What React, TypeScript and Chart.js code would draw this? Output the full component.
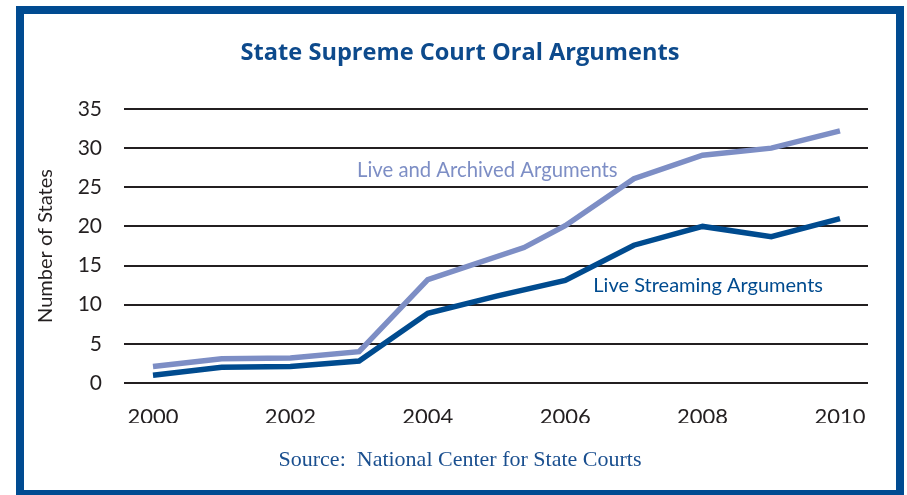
import React, { useEffect, useRef } from "react";
import { Chart, registerables } from "chart.js";

Chart.register(...registerables);

// ---- data ----
const archivedYears = [2000, 2001, 2002, 2003, 2004, 2005.4, 2006, 2007, 2008, 2009, 2010];
const archivedValues = [2.1, 3.1, 3.2, 4.0, 13.2, 17.3, 20.1, 26.1, 29.1, 30.0, 32.2];
const streamingYears = [2000, 2001, 2002, 2003, 2004, 2005, 2006, 2007, 2008, 2009, 2010];
const streamingValues = [1.0, 2.0, 2.1, 2.8, 8.9, 11.1, 13.1, 17.6, 20.0, 18.7, 21.0];
const xTickLabels = [2000, 2002, 2004, 2006, 2008, 2010];
const yTickValues = [0, 5, 10, 15, 20, 25, 30, 35];

const TITLE = "State Supreme Court Oral Arguments";
const SOURCE = "Source:  National Center for State Courts";
const Y_TITLE = "Number of States";
const ARCHIVED_LABEL = "Live and Archived Arguments";
const STREAMING_LABEL = "Live Streaming Arguments";

const DARK = "#004b8f";
const LIGHT = "#7d8ec5";
const FRAME = "#004b91";
const INK = "#231f20";

const textPlugin = {
  id: "customTexts",
  afterDatasetsDraw(chart: any) {
    const { ctx, scales } = chart;
    const x = scales.x;
    const y = scales.y;
    ctx.save();
    ctx.textBaseline = "alphabetic";
    ctx.textAlign = "left";
    ctx.font = "20.3px Lato";
    ctx.fillStyle = LIGHT;
    ctx.fillText(ARCHIVED_LABEL, x.getPixelForValue(2002.97), y.getPixelForValue(26.3));
    ctx.fillStyle = DARK;
    ctx.font = "20px Lato";
    ctx.fillText(STREAMING_LABEL, x.getPixelForValue(2006.41), y.getPixelForValue(11.6));
    ctx.restore();
  },
  afterDraw(chart: any) {
    const { ctx } = chart;
    ctx.save();
    ctx.textAlign = "center";
    ctx.textBaseline = "alphabetic";
    ctx.fillStyle = "#0d4a8c";
    ctx.font = "bold 23.6px 'Open Sans'";
    ctx.fillText(TITLE, 460, 60);
    ctx.fillStyle = "#1a4f8f";
    ctx.font = "22px 'Liberation Serif'";
    ctx.fillText(SOURCE, 460, 466);
    ctx.restore();
  },
};

export default function App() {
  const ref = useRef<HTMLCanvasElement | null>(null);

  useEffect(() => {
    if (!ref.current) return;
    const chart = new Chart(ref.current, {
      type: "line",
      data: {
        datasets: [
          {
            label: STREAMING_LABEL,
            data: streamingYears.map((yr, i) => ({ x: yr, y: streamingValues[i] })),
            borderColor: DARK,
            borderWidth: 5.5,
            pointRadius: 0,
            tension: 0,
            fill: false,
          },
          {
            label: ARCHIVED_LABEL,
            data: archivedYears.map((yr, i) => ({ x: yr, y: archivedValues[i] })),
            borderColor: LIGHT,
            borderWidth: 5.5,
            pointRadius: 0,
            tension: 0,
            fill: false,
          },
        ],
      },
      options: {
        responsive: false,
        animation: false,
        layout: { padding: { top: 109, right: 39, bottom: 72, left: 0 } },
        plugins: {
          legend: { display: false },
          tooltip: { enabled: false },
          title: { display: false },
        },
        scales: {
          x: {
            type: "linear",
            min: 1999.578,
            max: 2010.408,
            grid: { display: false, drawTicks: false },
            border: { display: false },
            afterBuildTicks: (scale: any) => {
              scale.ticks = xTickLabels.map((v) => ({ value: v }));
            },
            afterFit: (scale: any) => {
              scale.height = 40;
            },
            ticks: {
              autoSkip: false,
              maxRotation: 0,
              padding: 21,
              color: INK,
              font: { family: "Lato", size: 22 },
              callback: (v: any) => String(v),
            },
          },
          y: {
            min: 0,
            max: 35,
            afterBuildTicks: (scale: any) => {
              scale.ticks = yTickValues.map((v) => ({ value: v }));
            },
            afterFit: (scale: any) => {
              scale.width = 124;
            },
            grid: { color: INK, lineWidth: 2, drawTicks: false },
            border: { display: false },
            ticks: {
              padding: 22,
              color: INK,
              font: { family: "Lato", size: 21 },
              callback: (v: any) => String(v),
            },
            title: {
              display: true,
              text: Y_TITLE,
              color: INK,
              font: { family: "Lato", size: 20 },
              padding: { top: 34, bottom: 0 },
            },
          },
        },
      },
      plugins: [textPlugin],
    });
    return () => chart.destroy();
  }, []);

  return (
    <div
      style={{
        position: "absolute",
        left: 0,
        top: 0,
        width: 907,
        height: 495,
        background: "#fff",
        overflow: "hidden",
      }}
    >
      <canvas ref={ref} width={907} height={495} style={{ position: "absolute", left: 0, top: 0 }} />
      <div
        style={{
          position: "absolute",
          left: 16,
          top: 6,
          width: 888,
          height: 492,
          border: `8px solid ${FRAME}`,
          boxSizing: "border-box",
          pointerEvents: "none",
        }}
      />
    </div>
  );
}
